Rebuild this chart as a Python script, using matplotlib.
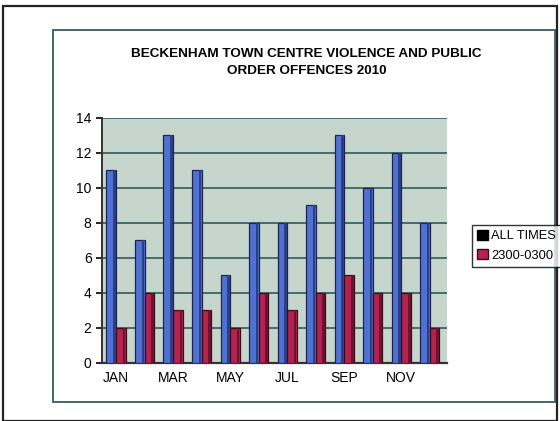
import numpy as np
import matplotlib.pyplot as plt
from matplotlib.patches import Rectangle, Patch

months = ["JAN", "FEB", "MAR", "APR", "MAY", "JUN",
          "JUL", "AUG", "SEP", "OCT", "NOV", "DEC"]
all_times = [11, 7, 13, 11, 5, 8, 8, 9, 13, 10, 12, 8]
late_night = [2, 4, 3, 3, 2, 4, 3, 4, 5, 4, 4, 2]
shown_ticks = ["JAN", "MAR", "MAY", "JUL", "SEP", "NOV"]

plt.rcParams['font.family'] = ['Liberation Sans', 'DejaVu Sans']

fig = plt.figure(figsize=(5.6, 4.21), dpi=100)

# outer and inner frames (pasted excel chart look)
fig.patches.append(Rectangle((0.006, 0.0), 0.988, 0.985, transform=fig.transFigure,
                             fill=False, edgecolor='#222222', linewidth=1.6))
fig.patches.append(Rectangle((0.094, 0.045), 0.897, 0.883, transform=fig.transFigure,
                             fill=False, edgecolor='#3d6670', linewidth=1.4))

ax = fig.add_axes([0.182, 0.138, 0.616, 0.582])
ax.set_facecolor('#c6d6cd')

x = np.arange(len(months))
w = 0.34

# blue series: front face + darker side strip
ax.bar(x - w / 2, all_times, w, color='#4f72d2', edgecolor='#1b2450', linewidth=0.9, zorder=3)
ax.bar(x - 0.06, all_times, 0.09, color='#2c3f86', zorder=3.5)
# red series
ax.bar(x + w / 2, late_night, w, color='#b3234f', edgecolor='#3a0a18', linewidth=0.9, zorder=3)
ax.bar(x + w - 0.06, late_night, 0.09, color='#6e1230', zorder=3.5)

ax.set_ylim(0, 14)
ax.set_xlim(-0.5, 11.6)
ax.set_yticks(range(0, 15, 2))
ax.yaxis.grid(True, color='#2f5a5a', linewidth=1.2, zorder=1)
ax.set_axisbelow(True)

tick_pos = [months.index(m) for m in shown_ticks]
ax.set_xticks(tick_pos)
ax.set_xticklabels(shown_ticks, fontsize=10)
ax.tick_params(axis='y', labelsize=10, length=4, width=1.2)
ax.tick_params(axis='x', length=0, pad=6)

for s in ['top', 'right']:
    ax.spines[s].set_visible(False)
ax.spines['left'].set_color('#333333')
ax.spines['left'].set_linewidth(1.4)
ax.spines['bottom'].set_color('#333333')
ax.spines['bottom'].set_linewidth(1.6)

fig.text(0.547, 0.852, "BECKENHAM TOWN CENTRE VIOLENCE AND PUBLIC\nORDER OFFENCES 2010",
         ha='center', va='center', fontsize=9.7, fontweight='bold', linespacing=1.55)

# legend
handles = [Patch(facecolor='black', edgecolor='black'),
           Patch(facecolor='#b3234f', edgecolor='#3a0a18')]
leg = fig.legend(handles, ["ALL TIMES", "2300-0300"], loc='center left',
                 bbox_to_anchor=(0.843, 0.416), fontsize=9.3, frameon=True, fancybox=False,
                 handlelength=0.8, handleheight=0.8, handletextpad=0.3,
                 borderpad=0.4, labelspacing=0.55, borderaxespad=0)
leg.get_frame().set_edgecolor('black')
leg.get_frame().set_linewidth(1.0)

fig.savefig('out.png', dpi=100)
